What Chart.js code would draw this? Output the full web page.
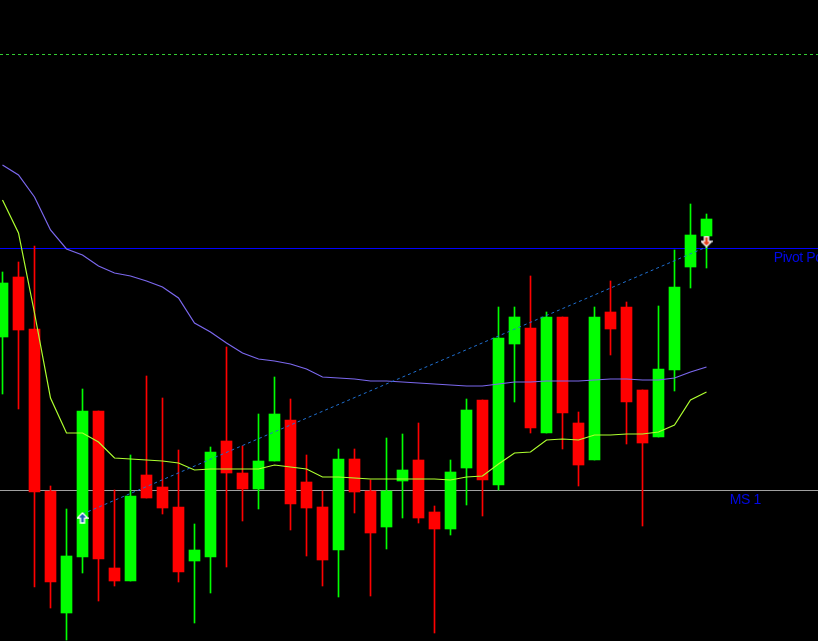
<!DOCTYPE html>
<html>
<head>
<meta charset="utf-8">
<script src="https://cdn.jsdelivr.net/npm/chart.js@4.4.1/dist/chart.umd.min.js"></script>
<style>
html,body{margin:0;padding:0;background:#000;overflow:hidden}
canvas{display:block}
</style>
</head>
<body>
<canvas id="c" width="818" height="641"></canvas>
<script>
// ---- data ----
const bars  = [0,1,2,3,4,5,6,7,8,9,10,11,12,13,14,15,16,17,18,19,20,21,22,23,24,25,26,27,28,29,30,31,32,33,34,35,36,37,38,39,40,41,42,43,44];
const open  = [146.63,147.23,146.71,145.09,143.87,144.43,145.89,144.32,144.19,145.25,145.13,144.93,144.39,144.43,145.59,145.27,145.11,145.39,145.80,145.18,144.93,144.50,145.41,145.09,144.73,145.19,145.40,144.88,144.71,145.32,146.00,145.15,146.56,146.72,145.67,146.83,145.77,145.40,146.88,146.93,146.10,145.63,146.30,147.33,147.64];
const high  = [147.28,147.38,147.54,145.14,144.91,146.11,145.89,145.10,145.45,146.24,146.02,145.50,144.76,145.53,146.53,145.54,145.86,146.23,146.01,145.45,145.09,145.51,145.51,145.20,145.62,145.66,145.77,144.94,145.40,146.01,146.00,146.93,146.93,147.24,146.88,146.83,145.88,146.93,147.19,146.98,146.10,146.94,147.50,147.96,147.86];
const low   = [146.06,145.91,144.13,143.92,143.60,144.27,143.99,144.14,144.19,145.02,144.86,144.18,143.77,144.07,144.33,144.79,144.91,145.39,144.70,144.44,144.14,144.03,144.87,144.04,144.51,144.82,144.77,143.67,144.65,144.95,144.84,145.10,145.98,145.67,145.67,145.51,145.14,145.40,146.45,145.56,144.74,145.63,146.09,147.12,147.32];
const close = [147.17,146.70,145.08,144.18,144.44,145.89,144.41,144.19,145.04,145.02,144.92,144.28,144.50,145.48,145.27,145.11,145.39,145.86,144.96,144.92,144.40,145.41,145.08,144.67,145.09,145.30,144.82,144.71,145.28,145.90,145.20,146.62,146.83,145.72,146.83,145.87,145.35,146.83,146.71,145.98,145.57,146.31,147.13,147.65,147.81];
const maSlow = [148.35,148.25,148.03,147.70,147.51,147.45,147.34,147.27,147.24,147.19,147.13,147.02,146.77,146.68,146.57,146.47,146.41,146.39,146.36,146.31,146.23,146.22,146.21,146.19,146.19,146.18,146.17,146.16,146.15,146.14,146.14,146.16,146.18,146.18,146.19,146.19,146.19,146.20,146.21,146.21,146.20,146.20,146.22,146.28,146.33];
const maFast = [148.00,147.67,146.87,146.02,145.67,145.67,145.58,145.42,145.41,145.40,145.39,145.37,145.30,145.31,145.31,145.31,145.31,145.35,145.33,145.31,145.23,145.23,145.22,145.21,145.21,145.21,145.21,145.21,145.20,145.23,145.24,145.36,145.47,145.48,145.60,145.61,145.60,145.65,145.65,145.66,145.66,145.68,145.75,146.00,146.08];
const trendBars   = [5, 44];
const trendPrices = [144.86, 147.53];
const buyBars  = [5];
const buyPrices = [144.82];
const sellBars = [44];
const sellPrices = [147.585];
const levelNames  = ['Pivot Point', 'MS 1'];
const levelPrices = [147.52, 145.10];
const upperLevel  = 149.46;

// ---- arrow markers ----
function arrowImage(up, fill) {
  const cv = document.createElement('canvas');
  cv.width = 12; cv.height = 12;
  const g = cv.getContext('2d');
  g.save();
  if (!up) { g.translate(0, 12); g.scale(1, -1); }
  g.beginPath();
  g.moveTo(6, 1); g.lineTo(11, 6); g.lineTo(8, 6); g.lineTo(8, 11);
  g.lineTo(4, 11); g.lineTo(4, 6); g.lineTo(1, 6); g.closePath();
  g.fillStyle = fill; g.fill();
  g.lineWidth = 1.4; g.strokeStyle = '#ffffff'; g.stroke();
  g.beginPath();
  g.moveTo(6, 2.5); g.lineTo(9, 5.5); g.lineTo(7, 5.5); g.lineTo(7, 10);
  g.lineTo(5, 10); g.lineTo(5, 5.5); g.lineTo(3, 5.5); g.closePath();
  g.fill();
  g.restore();
  return cv;
}
const upArrow = arrowImage(true, '#1F5FB8');
const downArrow = arrowImage(false, '#E2401C');

// ---- levels plugin ----
const levelsPlugin = {
  id: 'levels',
  beforeDatasetsDraw(chart) {
    const ctx = chart.ctx, a = chart.chartArea;
    const ys = chart.scales.y, xs = chart.scales.x;
    ctx.save();
    let y = Math.round(ys.getPixelForValue(upperLevel)) + 0.5;
    ctx.strokeStyle = '#32CD32'; ctx.lineWidth = 1; ctx.setLineDash([3, 3]);
    ctx.beginPath(); ctx.moveTo(a.left, y); ctx.lineTo(a.right, y); ctx.stroke();
    ctx.setLineDash([]);
    const colors = ['#0000FF', '#A0A0A0'];
    const labelBar = [48.2, 45.45];
    ctx.font = '14px "Liberation Sans", Arial, sans-serif';
    try { ctx.letterSpacing = '-0.4px'; } catch (e) {}
    ctx.textBaseline = 'alphabetic';
    ctx.textAlign = 'left';
    levelPrices.forEach((p, i) => {
      const yy = Math.round(ys.getPixelForValue(p)) + 0.5;
      ctx.strokeStyle = colors[i];
      ctx.beginPath(); ctx.moveTo(a.left, yy); ctx.lineTo(a.right, yy); ctx.stroke();
      ctx.fillStyle = '#0008E6';
      ctx.fillText(levelNames[i], xs.getPixelForValue(labelBar[i]), yy + 13);
    });
    ctx.restore();
  }
};

const bodyColors = bars.map(i => close[i] >= open[i] ? '#00FF00' : '#FF0000');

new Chart(document.getElementById('c'), {
  type: 'bar',
  data: {
    datasets: [
      { type: 'scatter', label: 'buy', data: buyBars.map((b, i) => ({x: b, y: buyPrices[i]})),
        pointStyle: upArrow, pointRadius: 6, order: 0, clip: false },
      { type: 'scatter', label: 'sell', data: sellBars.map((b, i) => ({x: b, y: sellPrices[i]})),
        pointStyle: downArrow, pointRadius: 6, order: 0, clip: false },
      { type: 'line', label: 'trend', data: trendBars.map((b, i) => ({x: b, y: trendPrices[i]})),
        borderColor: '#1F6FD0', borderWidth: 1, borderDash: [3, 3], pointRadius: 0, fill: false, order: 1 },
      { type: 'line', label: 'MA slow', data: bars.map(i => ({x: i, y: maSlow[i]})),
        borderColor: '#7B68EE', borderWidth: 1.2, pointRadius: 0, tension: 0, fill: false, order: 2 },
      { type: 'line', label: 'MA fast', data: bars.map(i => ({x: i, y: maFast[i]})),
        borderColor: '#ADFF2F', borderWidth: 1.2, pointRadius: 0, tension: 0, fill: false, order: 2 },
      { type: 'bar', label: 'body', data: bars.map(i => ({x: i, y: [open[i], close[i]]})),
        backgroundColor: bodyColors, borderWidth: 0, barThickness: 11, grouped: false, order: 4 },
      { type: 'bar', label: 'wick', data: bars.map(i => ({x: i, y: [low[i], high[i]]})),
        backgroundColor: bodyColors, borderWidth: 0, barThickness: 1, grouped: false, order: 5 }
    ]
  },
  options: {
    responsive: false,
    devicePixelRatio: 1,
    animation: false,
    layout: { padding: 0, autoPadding: false },
    plugins: { legend: { display: false }, tooltip: { enabled: false } },
    scales: {
      x: { type: 'linear', min: -0.15625, max: 50.96875, offset: false, display: false },
      y: { type: 'linear', min: 143.59, max: 150.00, display: false }
    }
  },
  plugins: [levelsPlugin]
});
</script>
</body>
</html>
